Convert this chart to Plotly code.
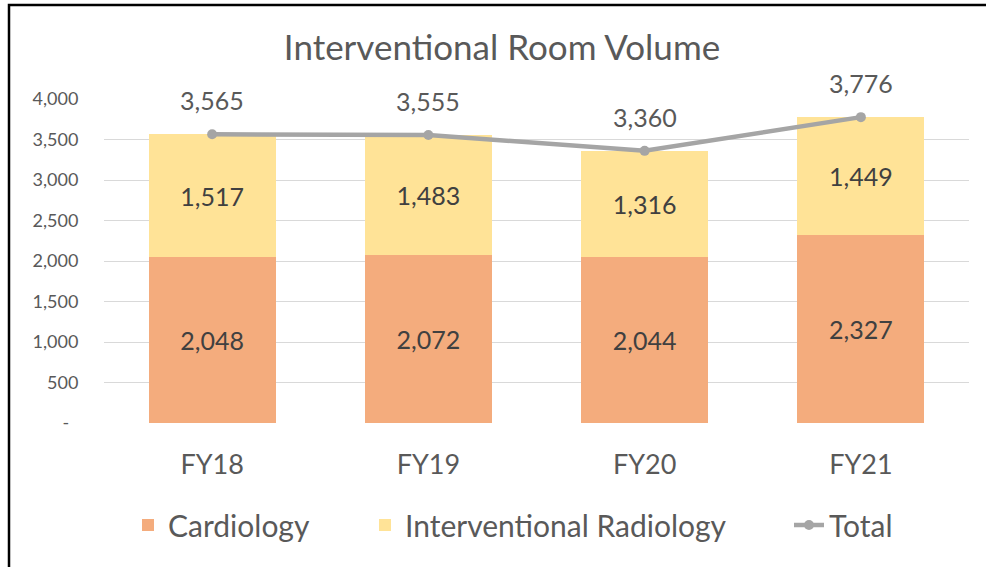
import plotly.graph_objects as go

categories = ["FY18", "FY19", "FY20", "FY21"]
cardiology = [2048, 2072, 2044, 2327]
interventional_radiology = [1517, 1483, 1316, 1449]
total = [3565, 3555, 3360, 3776]
y_tick_vals = [0, 500, 1000, 1500, 2000, 2500, 3000, 3500, 4000]
y_tick_text = ["-\u00a0\u00a0", "500", "1,000", "1,500", "2,000", "2,500", "3,000", "3,500", "4,000"]

W, H = 986, 567
ML, MR, MT, MB = 104, 17, 99, 144
PW = W - ML - MR
PH = H - MT - MB

FONT = "Lato"
TXT = "#595959"


def fmt(v):
    return f"{v:,}"


def xp(px):
    return (px - ML) / PW


def yp(py):
    return (H - MB - py) / PH


fig = go.Figure()
fig.add_trace(go.Bar(
    x=categories, y=cardiology, name="Cardiology", legend="legend",
    marker=dict(color="#F4AC7D", line=dict(width=0)),
    text=[fmt(v) for v in cardiology], textposition="inside",
    insidetextanchor="middle", textangle=0,
    textfont=dict(family=FONT, size=25, color="#404040"),
))
fig.add_trace(go.Bar(
    x=categories, y=interventional_radiology, name="Interventional Radiology",
    legend="legend2",
    marker=dict(color="#FFE397", line=dict(width=0)),
    text=[fmt(v) for v in interventional_radiology], textposition="inside",
    insidetextanchor="middle", textangle=0,
    textfont=dict(family=FONT, size=25, color="#404040"),
))
fig.add_trace(go.Scatter(
    x=categories, y=total, name="Total", mode="lines+markers", legend="legend3",
    line=dict(color="#A5A5A5", width=4.5),
    marker=dict(color="#A5A5A5", size=10),
))

for c, t in zip(categories, total):
    fig.add_annotation(x=c, y=t, text=fmt(t), showarrow=False, yshift=34,
                       yanchor="middle",
                       font=dict(family=FONT, size=25, color=TXT))

# outer frame (left and top edges visible in the cropped picture)
fig.add_shape(type="rect", xref="paper", yref="paper",
              x0=xp(9), x1=xp(W + 20), y0=yp(H + 20), y1=yp(5),
              line=dict(color="#000000", width=2.5), fillcolor="rgba(0,0,0,0)")

leg_common = dict(orientation="h", xanchor="left", yanchor="middle",
                  y=yp(525), font=dict(family=FONT, size=30, color=TXT),
                  bgcolor="rgba(0,0,0,0)", borderwidth=0)

fig.update_layout(
    width=W, height=H,
    margin=dict(l=ML, r=MR, t=MT, b=MB, autoexpand=False),
    paper_bgcolor="white", plot_bgcolor="white",
    barmode="stack", bargap=0.413,
    title=dict(text="Interventional Room Volume", x=502 / W, xanchor="center",
               y=1 - 48 / H, yanchor="middle", xref="container", yref="container",
               font=dict(family=FONT, size=35, color=TXT)),
    font=dict(family=FONT, color=TXT),
    showlegend=True,
    legend=dict(x=xp(128), **leg_common),
    legend2=dict(x=xp(365), **leg_common),
    legend3=dict(x=xp(789), **leg_common),
    xaxis=dict(showgrid=False, showline=False, zeroline=False,
               ticks="outside", ticklen=18, tickcolor="rgba(0,0,0,0)",
               tickfont=dict(family=FONT, size=27, color=TXT)),
    yaxis=dict(range=[0, 4000], tickvals=y_tick_vals, ticktext=y_tick_text,
               showgrid=True, gridcolor="#D9D9D9", gridwidth=1,
               zeroline=False, showline=False,
               ticks="outside", ticklen=21, tickcolor="rgba(0,0,0,0)",
               tickfont=dict(family=FONT, size=18, color=TXT)),
)

fig.write_html("out.html", config={"displayModeBar": False},
               post_script="document.body.style.margin='0px';")
